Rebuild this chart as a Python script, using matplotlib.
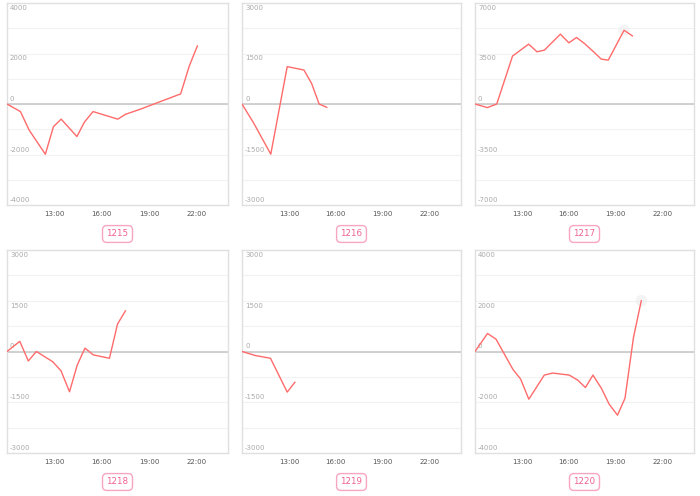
import matplotlib
matplotlib.use("Agg")
import matplotlib.pyplot as plt
from matplotlib.patches import FancyBboxPatch
import matplotlib.transforms as mtransforms

plt.rcParams['font.family'] = ['DejaVu Sans']

# ---- data (hours of day, value) ----
names = ["1215", "1216", "1217", "1218", "1219", "1220"]
limits = [4000, 3000, 7000, 3000, 3000, 4000]

times_1215 = [10.0, 10.85, 11.4, 12.43, 12.94, 13.43, 14.43, 14.9, 15.45, 17.02, 17.5, 18.47, 21.0, 21.55, 22.06]
values_1215 = [0, -300, -1030, -1990, -900, -600, -1290, -720, -300, -600, -410, -200, 400, 1510, 2300]

times_1216 = [10.0, 10.75, 11.84, 12.89, 13.96, 14.45, 14.93, 15.42]
values_1216 = [0, -570, -1490, 1110, 1010, 610, 0, -100]

times_1217 = [10.0, 10.79, 11.39, 12.4, 13.43, 13.96, 14.43, 15.46, 16.0, 16.49, 17.0, 17.54, 18.07, 18.52, 19.53, 20.06]
values_1217 = [0, -250, 0, 3320, 4150, 3620, 3730, 4840, 4240, 4610, 4190, 3660, 3110, 3040, 5110, 4720]

times_1218 = [10.0, 10.81, 11.35, 11.86, 12.89, 13.42, 13.96, 14.45, 14.94, 15.46, 16.49, 17.0, 17.5]
values_1218 = [0, 300, -280, 0, -300, -570, -1190, -400, 100, -100, -200, 810, 1200]

times_1219 = [10.0, 10.86, 11.82, 12.89, 13.38]
values_1219 = [0, -120, -200, -1200, -910]

times_1220 = [10.0, 10.8, 11.34, 12.42, 12.92, 13.44, 14.43, 14.97, 16.03, 16.57, 17.06, 17.54, 18.08, 18.58, 19.11, 19.59, 20.13, 20.63]
values_1220 = [0, 710, 490, -700, -1090, -1880, -930, -850, -930, -1130, -1420, -930, -1450, -2080, -2510, -1840, 550, 2000]

x_ticks = [13, 16, 19, 22]
x_tick_labels = ["13:00", "16:00", "19:00", "22:00"]

series = [(times_1215, values_1215), (times_1216, values_1216), (times_1217, values_1217),
          (times_1218, values_1218), (times_1219, values_1219), (times_1220, values_1220)]
highlight = {2: True, 5: True}

W, H = 700, 496
fig = plt.figure(figsize=(W / 100, H / 100), dpi=100)

cols = [(7, 228), (242, 461), (475, 694)]
rows = [(3, 205), (250, 453)]
label_y = [234, 482]

line_color = "#ff6b6b"
for i, (name, lim, (tx, vy)) in enumerate(zip(names, limits, series)):
    r, c = divmod(i, 3)
    x0, x1 = cols[c]
    y0, y1 = rows[r]
    ax = fig.add_axes([x0 / W, (H - y1) / H, (x1 - x0) / W, (y1 - y0) / H])
    ax.set_xlim(10, 24)
    ax.set_ylim(-lim, lim)
    step = lim / 4
    ax.set_yticks([-lim + k * step for k in range(9)])
    ax.set_yticklabels([])
    ax.tick_params(axis='y', length=0)
    ax.grid(axis='y', color='#f2f2f2', lw=0.8)
    ax.set_axisbelow(True)
    ax.set_xticks(x_ticks)
    ax.set_xticklabels(x_tick_labels, fontsize=5, color='#555555')
    ax.tick_params(axis='x', length=0, pad=4)
    for s in ax.spines.values():
        s.set_color('#e0e0e0')
        s.set_linewidth(1.0)
    ax.axhline(0, color='#c8c8c8', lw=1.2, zorder=1)
    # y labels inside
    trans = mtransforms.blended_transform_factory(ax.transAxes, ax.transData)
    for v in [lim, lim / 2, 0, -lim / 2, -lim]:
        off = mtransforms.offset_copy(trans, fig=fig, x=3, y=(-2 if v > 0 else 2), units='dots')
        ax.text(0, v, f"{int(v)}", transform=off, fontsize=5, color='#aaaaaa',
                ha='left', va=('top' if v > 0 else 'bottom'))
    ax.plot(tx, vy, color=line_color, lw=1.0, zorder=3)
    if i in highlight:
        ax.scatter([tx[-2] if i == 2 else tx[-1]], [vy[-2] if i == 2 else vy[-1]],
                   s=70, color='#eeeeee', alpha=0.6, zorder=2, edgecolors='none')
    # label box
    cx = (x0 + x1) / 2 / W
    cy = (H - label_y[r]) / H
    fig.text(cx, cy, name, fontsize=6.3, color='#f06292', ha='center', va='center',
             bbox=dict(boxstyle='round,pad=0.45,rounding_size=0.5', fc='white', ec='#f8a5c2', lw=1.0))

fig.savefig("out.png", dpi=100)
